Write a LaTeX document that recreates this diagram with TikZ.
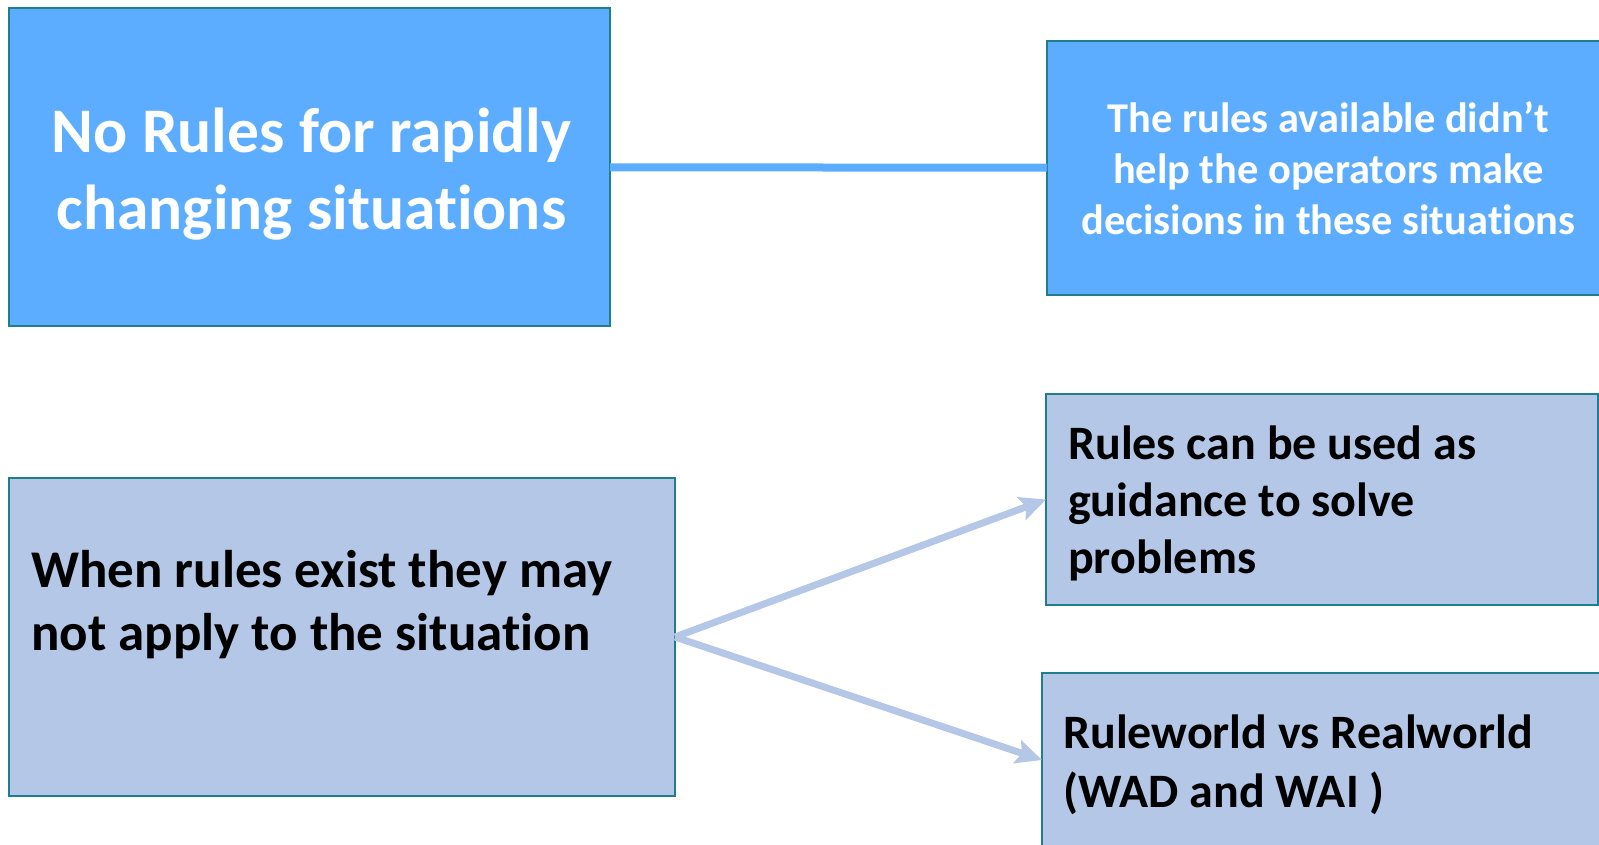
\documentclass[tikz,border=0pt]{standalone}
\usepackage{fontspec}
\setmainfont{Carlito}[Ligatures={NoCommon,NoRare}]
\usetikzlibrary{arrows.meta,positioning}

\definecolor{skyfill}{HTML}{5CADFF}
\definecolor{palefill}{HTML}{B4C7E7}
\definecolor{boxedge}{HTML}{1F7E8E}

\begin{document}
\begin{tikzpicture}[x=1pt, y=-1pt,
	topbox/.style={rectangle, draw=boxedge, line width=2.8pt, fill=skyfill, inner sep=0pt, outer sep=0pt},
	lowbox/.style={rectangle, draw=boxedge, line width=2.8pt, fill=palefill, inner sep=0pt, outer sep=0pt},
	toptext/.style={text=white, align=center, inner sep=0pt},
	lowtext/.style={anchor=west, align=left, inner sep=0pt},
	link/.style={draw=skyfill, line width=8pt},
	arr/.style={draw=palefill, line width=7pt, -{Stealth[length=26pt, width=24pt, inset=5pt]}}]
			\useasboundingbox (0,0) rectangle (1599,845);
			\clip (0,0) rectangle (1599,845);
			
			\node[topbox, minimum width=601pt, minimum height=318pt] (norules) at (309.5,167){};
			\node[topbox, minimum width=563pt, minimum height=254pt] (nohelp) at (1328.5,168){};
			\node[lowbox, minimum width=666pt, minimum height=318pt] (exist) at (342,637){};
			\node[lowbox, minimum width=552pt, minimum height=211pt] (guide) at (1322,499.5){};
			\node[lowbox, minimum width=568pt, minimum height=174pt] (world) at (1326,760){};
			
			\node[toptext, font=\fontsize{63.5}{77}\selectfont\bfseries] (norulestxt) at ([xshift=2pt, yshift=-7pt]norules.center){No Rules for rapidly\\changing situations};
			\node[toptext, font=\fontsize{42.4}{51}\selectfont\bfseries] (nohelptxt) at (nohelp.center){The rules available didn’t\\help the operators make\\decisions in these situations};
			\node[lowtext, font=\fontsize{53}{63}\selectfont\bfseries] (existtxt) at ([xshift=22pt, yshift=32pt]exist.west){When rules exist they may\\not apply to the situation};
			\node[lowtext, font=\fontsize{48}{57}\selectfont\bfseries] (guidetxt) at ([xshift=22pt, yshift=-4pt]guide.west){Rules can be used as\\guidance to solve\\problems};
			\node[lowtext, font=\fontsize{48}{59}\selectfont\bfseries] (worldtxt) at ([xshift=21pt, yshift=-5pt]world.west){Ruleworld vs Realworld\\(WAD and WAI )};
			
			\path[link] (norules) -- (nohelp);
			\path[arr] (exist.east) -- (guide.west);
			\path[arr] (exist.east) -- (world.west);
\end{tikzpicture}
\end{document}
